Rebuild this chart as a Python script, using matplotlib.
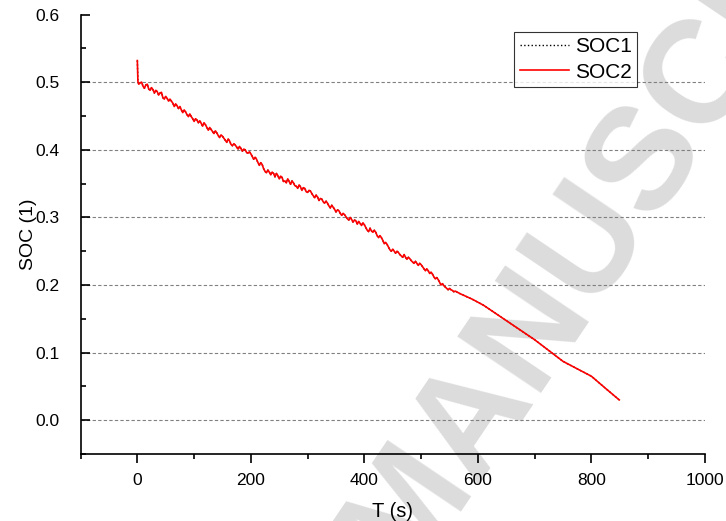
import numpy as np
import matplotlib.pyplot as plt
from matplotlib.ticker import MultipleLocator

plt.rcParams['font.family'] = ['Liberation Sans', 'DejaVu Sans']

# SOC estimate over the discharge test (time in s, SOC as fraction)
# start-up transient
t_start = [0, 1]
soc_start = [0.532, 0.501]

# noisy section, sampled every 2.5 s from 2.5 s to 560 s
t_noisy = np.arange(2.5, 560.1, 2.5)
soc_noisy = [
    0.497, 0.499, 0.500, 0.494, 0.491, 0.496, 0.497, 0.490,
    0.488, 0.492, 0.489, 0.484, 0.488, 0.486, 0.481, 0.484,
    0.485, 0.477, 0.475, 0.479, 0.476, 0.472, 0.475, 0.472,
    0.469, 0.464, 0.468, 0.465, 0.461, 0.464, 0.459, 0.455,
    0.459, 0.456, 0.452, 0.449, 0.453, 0.449, 0.446, 0.442,
    0.446, 0.444, 0.440, 0.443, 0.439, 0.435, 0.440, 0.437,
    0.433, 0.429, 0.433, 0.430, 0.427, 0.424, 0.428, 0.425,
    0.421, 0.418, 0.422, 0.420, 0.417, 0.414, 0.411, 0.416,
    0.413, 0.408, 0.406, 0.409, 0.407, 0.404, 0.401, 0.405,
    0.402, 0.398, 0.401, 0.400, 0.396, 0.395, 0.397, 0.394,
    0.390, 0.386, 0.389, 0.386, 0.381, 0.377, 0.381, 0.378,
    0.372, 0.368, 0.366, 0.370, 0.367, 0.363, 0.367, 0.365,
    0.360, 0.365, 0.362, 0.357, 0.361, 0.359, 0.353, 0.354,
    0.351, 0.357, 0.353, 0.349, 0.354, 0.351, 0.347, 0.346,
    0.343, 0.348, 0.345, 0.340, 0.344, 0.343, 0.338, 0.337,
    0.340, 0.339, 0.335, 0.332, 0.329, 0.333, 0.330, 0.325,
    0.328, 0.327, 0.323, 0.321, 0.324, 0.321, 0.317, 0.314,
    0.318, 0.315, 0.312, 0.308, 0.311, 0.310, 0.306, 0.303,
    0.306, 0.304, 0.301, 0.298, 0.296, 0.300, 0.297, 0.293,
    0.296, 0.295, 0.290, 0.294, 0.291, 0.288, 0.292, 0.289,
    0.285, 0.281, 0.279, 0.284, 0.280, 0.278, 0.281, 0.278,
    0.273, 0.270, 0.273, 0.270, 0.266, 0.261, 0.263, 0.260,
    0.256, 0.252, 0.250, 0.253, 0.250, 0.247, 0.250, 0.248,
    0.245, 0.243, 0.241, 0.245, 0.241, 0.238, 0.241, 0.239,
    0.236, 0.234, 0.232, 0.235, 0.232, 0.229, 0.232, 0.230,
    0.227, 0.224, 0.221, 0.224, 0.221, 0.217, 0.219, 0.216,
    0.212, 0.209, 0.211, 0.208, 0.204, 0.200, 0.202, 0.199,
    0.197, 0.195, 0.193, 0.195, 0.193, 0.192, 0.190, 0.191,
]

# smooth tail
t_tail = [569, 590, 610, 640, 670, 700, 725, 750, 775, 800, 825, 849]
soc_tail = [0.187, 0.179, 0.170, 0.153, 0.136, 0.119, 0.103, 0.087, 0.076, 0.065,
            0.047, 0.030]

t = np.concatenate([t_start, t_noisy, t_tail])
soc2 = np.concatenate([soc_start, soc_noisy, soc_tail])
soc1 = soc2

fig = plt.figure(figsize=(7.26, 5.21), dpi=100)
ax = fig.add_axes([0.111, 0.1286, 0.86, 0.8434])
ax.patch.set_alpha(0)

# watermark behind the plot
fig.text(0.57, 0.015, "ACCEPTED MANUSCRIPT", fontsize=105, color='#dcdcdc',
         rotation=56, rotation_mode='anchor', ha='center', va='center',
         fontweight='bold', zorder=-5)

ax.plot(t, soc1, color='black', linestyle=':', lw=1.0, label='SOC1')
ax.plot(t, soc2, color='red', lw=1.2, label='SOC2')

ax.set_xlim(-100, 1000)
ax.set_ylim(-0.05, 0.6)
ax.xaxis.set_major_locator(MultipleLocator(200))
ax.xaxis.set_minor_locator(MultipleLocator(100))
ax.yaxis.set_major_locator(MultipleLocator(0.1))
ax.yaxis.set_minor_locator(MultipleLocator(0.05))
ax.yaxis.set_major_formatter(plt.FormatStrFormatter('%.1f'))

for y in np.arange(0, 0.51, 0.1):
    ax.axhline(y, color='#808080', lw=0.8, linestyle=(0, (3, 2)), zorder=1)

ax.spines['top'].set_visible(False)
ax.spines['right'].set_visible(False)
ax.spines['left'].set_linewidth(1.2)
ax.spines['bottom'].set_linewidth(1.2)
ax.tick_params(axis='x', which='major', direction='out', length=6.5, width=1.2,
               labelsize=12.5, pad=7)
ax.tick_params(axis='x', which='minor', direction='out', length=3.6, width=1.2)
ax.tick_params(axis='y', which='major', direction='in', length=6.5, width=1.2,
               labelsize=12.5, pad=15)
ax.tick_params(axis='y', which='minor', direction='in', length=3.6, width=1.2)

ax.set_xlabel('T (s)', fontsize=14.5, labelpad=10.5)
ax.set_ylabel('SOC (1)', fontsize=14, labelpad=-1)

leg = ax.legend(loc='upper right', bbox_to_anchor=(0.891, 0.960), fontsize=15,
                frameon=True, fancybox=False, handlelength=2.35, borderpad=0.25,
                labelspacing=0.3, handletextpad=0.3, borderaxespad=0)
leg.get_frame().set_edgecolor('black')
leg.get_frame().set_linewidth(0.8)

fig.savefig('out.png', dpi=100)
